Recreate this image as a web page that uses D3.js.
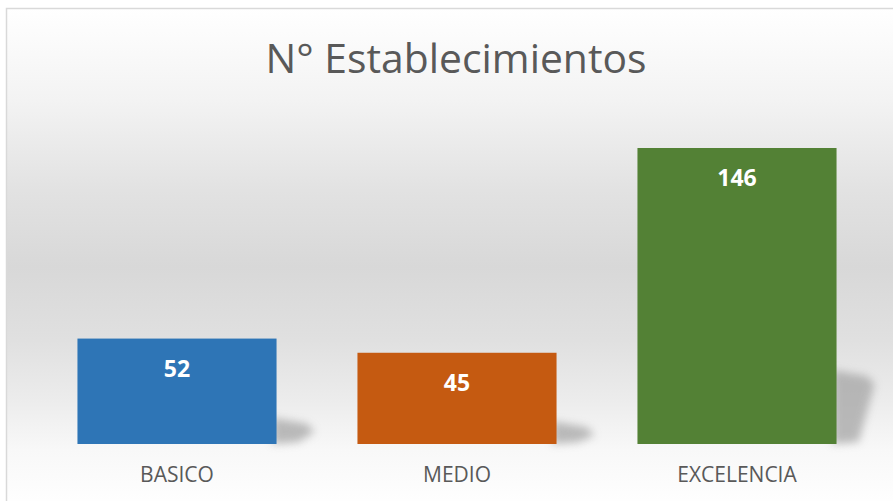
<!DOCTYPE html>
<html><head><meta charset="utf-8">
<script src="https://cdn.jsdelivr.net/npm/d3@7"></script>
<style>html,body{margin:0;padding:0;background:#fff;overflow:hidden}</style>
</head><body>
<script>
const categories = ["BASICO", "MEDIO", "EXCELENCIA"];
const values = [52, 45, 146];
const colors = ["#2e75b6", "#c55a11", "#538135"];
const title = "N° Establecimientos";

const W = 893, H = 501;
const svg = d3.select("body").append("svg").attr("width", W).attr("height", H);
const defs = svg.append("defs");
const g = defs.append("linearGradient").attr("id", "bg").attr("gradientUnits", "userSpaceOnUse")
  .attr("x1", 0).attr("y1", 8).attr("x2", 0).attr("y2", 501);
[[8,"#ffffff"],[100,"#f3f3f3"],[190,"#e2e2e2"],[267,"#d8d8d8"],[340,"#e0e0e0"],[400,"#ececec"],[450,"#f8f8f8"],[501,"#fefefe"]]
  .forEach(([y,c]) => g.append("stop").attr("offset", ((y-8)/(501-8))).attr("stop-color", c));
const f = defs.append("filter").attr("id","blur").attr("x","-50%").attr("y","-50%").attr("width","200%").attr("height","200%");
f.append("feGaussianBlur").attr("stdDeviation", 4.5);

svg.append("rect").attr("x", 6.5).attr("y", 8.5).attr("width", W).attr("height", H)
  .attr("fill", "url(#bg)").attr("stroke", "#d9d9d9").attr("stroke-width", 1.5);

svg.append("text").attr("x", 456).attr("y", 73).attr("text-anchor", "middle")
  .attr("font-family", "Open Sans").attr("font-size", 41).attr("fill", "#595959")
  .attr("textLength", 381).attr("lengthAdjust", "spacingAndGlyphs").text(title);

const x = d3.scaleBand().domain(categories).range([37, 877]).paddingInner(0.289).paddingOuter(0.1445);
const y = d3.scaleLinear().domain([0, 146]).range([444, 148]);

const data = categories.map((c, i) => ({c, v: values[i], col: colors[i]}));

// shadows
svg.append("g").selectAll("path").data(data).join("path")
  .attr("d", d => {
    const x1 = x(d.c) + x.bandwidth();
    const h = (y(0) - y(d.v)) * 0.25;
    const b = y(0);
    return `M${x1-4},${b-h} L${x1+30},${b-h+6} L${x1+38},${b-h+14} L${x1+22},${b-2} L${x1-4},${b}Z`;
  })
  .attr("fill", "#a0a0a0").attr("opacity", 0.7).attr("filter", "url(#blur)");

svg.append("g").selectAll("rect").data(data).join("rect")
  .attr("x", d => x(d.c)).attr("width", x.bandwidth())
  .attr("y", d => y(d.v)).attr("height", d => y(0) - y(d.v))
  .attr("fill", d => d.col);

svg.append("g").selectAll("text").data(data).join("text")
  .attr("x", d => x(d.c) + x.bandwidth()/2).attr("y", d => y(d.v) + 38)
  .attr("text-anchor", "middle").attr("font-family", "Open Sans").attr("font-weight", "bold")
  .attr("font-size", 23).attr("fill", "#ffffff").text(d => d.v);

const axis = d3.axisBottom(x).tickSize(0).tickPadding(0);
const ag = svg.append("g").attr("transform", "translate(0,444)").call(axis);
ag.select(".domain").remove();
ag.selectAll("text").attr("dy", null).attr("y", 38).attr("font-family", "Open Sans")
  .attr("font-size", 21).attr("fill", "#595959");
</script>
</body></html>
